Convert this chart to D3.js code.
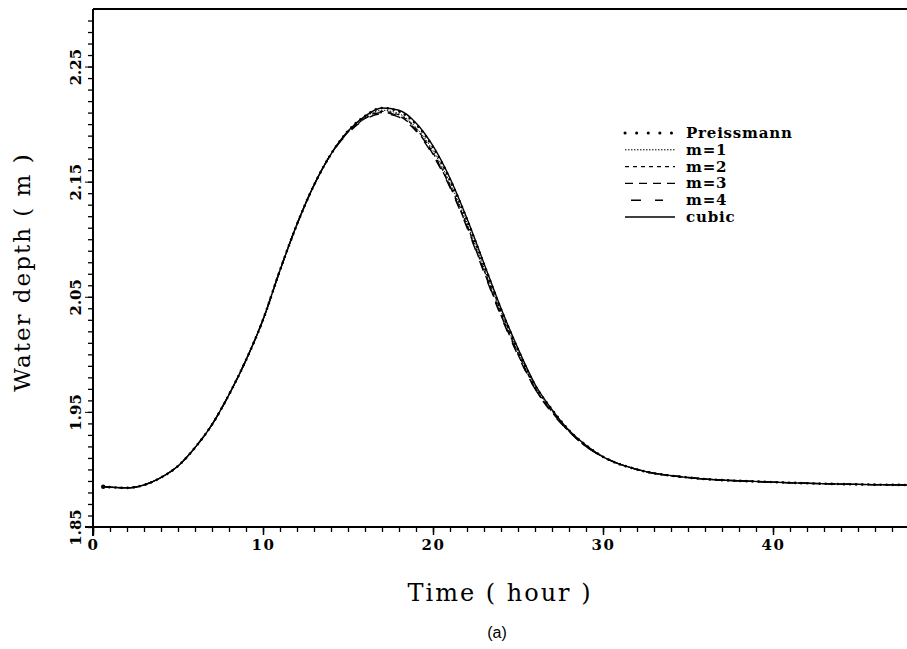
<!DOCTYPE html>
<head>
<meta charset="utf-8">
<script src="https://d3js.org/d3.v7.min.js"></script>
<style>
  body { margin: 0; background: #fff; }
  .tick text { font-family: 'DejaVu Serif', serif; font-weight: bold; font-size: 14px; }
  .axis path, .axis line { stroke: #000; fill: none; }
</style>
</head>
<body>
<div id="chart"></div>
<script>
// time (hour)
var hours = [0.6, 2, 3, 4, 5, 6, 7, 8, 9, 10, 11, 12, 13, 14, 15, 16, 17, 18, 19, 20,
             21, 22, 23, 24, 25, 26, 27, 28, 29, 30, 32, 35, 40, 45, 48];
// water depth (m) per scheme
var preissmann = [1.885, 1.884, 1.8865, 1.893, 1.903, 1.919, 1.939, 1.965, 1.995, 2.030, 2.073, 2.113, 2.147, 2.174, 2.194, 2.207, 2.214, 2.211, 2.200, 2.180,
                  2.152, 2.117, 2.078, 2.039, 2.004, 1.973, 1.952, 1.934, 1.921, 1.911, 1.900, 1.893, 1.889, 1.887, 1.8865];
var m1 = [1.885, 1.884, 1.8865, 1.893, 1.903, 1.919, 1.939, 1.965, 1.995, 2.030, 2.073, 2.113, 2.147, 2.174, 2.193, 2.206, 2.212, 2.209, 2.197, 2.177,
          2.149, 2.114, 2.075, 2.037, 2.002, 1.972, 1.951, 1.934, 1.921, 1.911, 1.900, 1.893, 1.889, 1.887, 1.8865];
var m2 = [1.885, 1.884, 1.8865, 1.893, 1.903, 1.919, 1.939, 1.965, 1.995, 2.030, 2.073, 2.113, 2.147, 2.174, 2.193, 2.205, 2.211, 2.208, 2.196, 2.175,
          2.147, 2.112, 2.073, 2.035, 2.001, 1.971, 1.950, 1.933, 1.920, 1.911, 1.900, 1.893, 1.889, 1.887, 1.8865];
var m3 = [1.885, 1.884, 1.8865, 1.893, 1.903, 1.919, 1.939, 1.965, 1.995, 2.030, 2.073, 2.113, 2.147, 2.174, 2.193, 2.205, 2.210, 2.207, 2.195, 2.174,
          2.146, 2.111, 2.072, 2.034, 2.000, 1.970, 1.950, 1.933, 1.920, 1.911, 1.900, 1.893, 1.889, 1.887, 1.8865];
var m4 = [1.885, 1.884, 1.8865, 1.893, 1.903, 1.919, 1.939, 1.965, 1.995, 2.030, 2.073, 2.113, 2.147, 2.174, 2.192, 2.204, 2.209, 2.206, 2.194, 2.173,
          2.145, 2.110, 2.071, 2.033, 1.999, 1.970, 1.949, 1.933, 1.920, 1.911, 1.900, 1.893, 1.889, 1.887, 1.8865];
var cubic = [1.885, 1.884, 1.8865, 1.893, 1.903, 1.919, 1.939, 1.965, 1.995, 2.030, 2.073, 2.113, 2.147, 2.174, 2.194, 2.207, 2.214, 2.212, 2.201, 2.181,
             2.153, 2.118, 2.079, 2.040, 2.005, 1.974, 1.952, 1.934, 1.921, 1.911, 1.900, 1.893, 1.889, 1.887, 1.8865];

var seriesNames = ["Preissmann", "m=1", "m=2", "m=3", "m=4", "cubic"];
var xTickLabels = [0, 10, 20, 30, 40];
var yTickLabels = [1.85, 1.95, 2.05, 2.15, 2.25];

var width = 907, height = 649;
var svg = d3.select("#chart").append("svg")
    .attr("width", width).attr("height", height);

var x = d3.scaleLinear().domain([0, 48]).range([93, 909]);
var y = d3.scaleLinear().domain([1.85, 2.3]).range([527, 9]);

// styles for each scheme
var styles = [
  { dash: "0.1 6", width: 2.6, cap: "round" },
  { dash: "1.5 1.5", width: 1, cap: "butt" },
  { dash: "4 4", width: 1.2, cap: "butt" },
  { dash: "8 6", width: 1.4, cap: "butt" },
  { dash: "10 12", width: 1.4, cap: "butt" },
  { dash: null, width: 1.4, cap: "butt" }
];
var allValues = [preissmann, m1, m2, m3, m4, cubic];

var line = d3.line()
    .x(function(d){ return x(d[0]); })
    .y(function(d){ return y(d[1]); })
    .curve(d3.curveMonotoneX);

allValues.forEach(function(vals, i){
  var pts = hours.map(function(h, j){ return [h, vals[j]]; });
  svg.append("path")
    .attr("d", line(pts))
    .attr("fill", "none")
    .attr("stroke", "#000")
    .attr("stroke-width", styles[i].width)
    .attr("stroke-linecap", styles[i].cap)
    .attr("stroke-dasharray", styles[i].dash);
});
// starting dot
svg.append("circle").attr("cx", x(hours[0])).attr("cy", y(preissmann[0])).attr("r", 2.2);

// x axis: minor ticks every hour
var xAxis = svg.append("g").attr("class", "axis")
    .attr("transform", "translate(0," + y(1.85) + ")")
    .call(d3.axisBottom(x).tickValues(d3.range(0, 49, 1)).tickSize(5).tickFormat(""));
xAxis.select(".domain").attr("d", "M" + (x(0) - 8) + ",0H907").attr("stroke-width", 2);
xAxis.selectAll(".tick line").attr("stroke-width", 1.3);
svg.append("g").attr("class", "axis")
    .attr("transform", "translate(0," + y(1.85) + ")")
    .call(d3.axisBottom(x).tickValues(xTickLabels).tickSize(8).tickPadding(4))
    .call(function(g){ g.select(".domain").remove(); })
    .call(function(g){ g.selectAll(".tick line").attr("stroke-width", 1.5); })
    .call(function(g){ g.selectAll(".tick text").style("font-size", "15px").style("letter-spacing", "1.5px"); });

// y axis
var yAxis = svg.append("g").attr("class", "axis")
    .attr("transform", "translate(" + x(0) + ",0)")
    .call(d3.axisLeft(y).tickValues(d3.range(0, 45).map(function(i){ return +(1.85 + i * 0.01).toFixed(2); })).tickSize(5).tickFormat(""));
yAxis.select(".domain").attr("d", "M0,9V536").attr("stroke-width", 2);
yAxis.selectAll(".tick line").attr("stroke-width", 1.3);
var yLab = svg.append("g").attr("class", "axis")
    .attr("transform", "translate(" + x(0) + ",0)")
    .call(d3.axisLeft(y).tickValues(yTickLabels).tickSize(8).tickFormat(d3.format(".2f")));
yLab.select(".domain").remove();
yLab.selectAll(".tick text")
    .attr("transform", "rotate(-90)")
    .attr("x", 0).attr("y", -12).attr("dy", 0)
    .attr("text-anchor", "middle")
    .style("font-size", "15px");

// top frame
svg.append("line").attr("x1", x(0)).attr("x2", 907).attr("y1", 9).attr("y2", 9)
   .attr("stroke", "#000").attr("stroke-width", 2);

// titles
svg.append("text")
  .attr("transform", "translate(30," + 272 + ") rotate(-90)")
  .attr("text-anchor", "middle")
  .style("font-family", "'DejaVu Serif', serif").style("font-size", "23px")
  .style("letter-spacing", "2px")
  .text("Water depth ( m )");
svg.append("text")
  .attr("x", 500).attr("y", 601)
  .attr("text-anchor", "middle")
  .style("font-family", "'DejaVu Serif', serif").style("font-size", "24px")
  .style("letter-spacing", "2px")
  .text("Time ( hour )");
svg.append("text")
  .attr("x", 497).attr("y", 638)
  .attr("text-anchor", "middle")
  .style("font-family", "'Liberation Sans', Arial, sans-serif").style("font-size", "16px")
  .text("(a)");

// legend
var leg = svg.append("g").attr("transform", "translate(625,138)");
seriesNames.forEach(function(name, i){
  var row = leg.append("g").attr("transform", "translate(0," + (i * 16.8) + ")");
  row.append("line").attr("x1", 0).attr("x2", 50).attr("y1", -5).attr("y2", -5)
    .attr("stroke", "#000")
    .attr("stroke-width", i === 0 ? 3 : styles[i].width)
    .attr("stroke-linecap", i === 0 ? "round" : "butt")
    .attr("stroke-dasharray", i === 0 ? "0.1 11.5" : (i === 4 ? "0 6 10 14 8 20" : styles[i].dash));
  row.append("text").attr("x", 61).attr("y", 0)
    .style("font-family", "'DejaVu Serif', serif").style("font-weight", "bold")
    .style("font-size", "15px").style("letter-spacing", "0.8px")
    .text(name);
});
</script>
</body>
